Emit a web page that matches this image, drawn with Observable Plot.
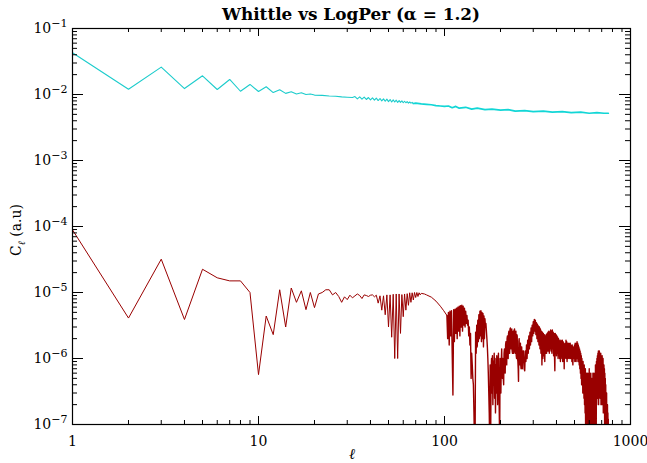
<!DOCTYPE html>
<html><head><meta charset="utf-8">
<script src="https://cdn.jsdelivr.net/npm/d3@7"></script>
<script src="https://cdn.jsdelivr.net/npm/@observablehq/plot@0.6"></script>
<style>
body{margin:0;background:#fff;}
#chart{width:647px;height:463px;}
</style></head><body><div id="chart"></div>
<script>
const titleText = "Whittle vs LogPer (\u03b1 = 1.2)";
const xTicks = [1, 10, 100, 1000];
const xTickLabels = ["1", "10", "100", "1000"];
const yTicks = [1e-7, 1e-6, 1e-5, 1e-4, 1e-3, 1e-2, 1e-1];
const yTickBase = "10";
const yTickExponents = ["\u22127", "\u22126", "\u22125", "\u22124", "\u22123", "\u22122", "\u22121"];

// Whittle estimate (cyan): [ell, C_ell]
const cyanPoints = [
[1,0.043],[2,0.012],[3,0.026],[4,0.0123],[5,0.0192],[6,0.0119],[7,0.0169],[8,0.0112],[9,0.0142],[10,0.0111],
[11,0.0131],[12,0.0107],[13,0.0118],[14,0.0104],[15,0.0110],[16,0.0102],[17,0.0106],[18,0.0100],[19,0.0102],[20,0.0098],
[22,0.0097],[24,0.0095],[26,0.0094],[28,0.0092],[30,0.0091],[32,0.0090],[33,0.0093],[34,0.0086],[35,0.0092],[36,0.0085],
[37,0.0091],[38,0.0084],[39,0.0090],[40,0.0083],[41,0.0089],[42,0.0082],[43,0.0088],[44,0.0081],[45,0.0087],[46,0.0080],
[47,0.0086],[48,0.0079],[49,0.0085],[50,0.0078],[51,0.0084],[52,0.0077],[53,0.0083],[54,0.0077],[55,0.0082],[56,0.0076],
[57,0.0081],[58,0.0076],[59,0.0080],[60,0.0075],[61,0.0079],[62,0.0075],[63,0.0078],[64,0.0074],[65,0.0077],[66,0.0074],
[67,0.0076],[68,0.0073],[70,0.0074],[75,0.0072],[80,0.0071],[85,0.0070],[90,0.0068],[95,0.0067],[100,0.0066],
[105,0.0067],[110,0.0063],[115,0.0066],[120,0.0062],[130,0.0064],[140,0.0060],[150,0.0062],[165,0.0059],[180,0.0060],
[200,0.0058],[220,0.0059],[240,0.0056],[270,0.0057],[300,0.0055],[340,0.0056],[380,0.0054],[430,0.0055],[480,0.0053],
[540,0.0054],[600,0.0052],[660,0.0053],[720,0.0052],[760,0.0052]
];

// LogPer estimate (dark red): [ell, C_ell]
const redPoints = [
[1,8.9e-5],[2,4.1e-6],[3,3.2e-5],[4,3.9e-6],[5,2.25e-5],[6,1.67e-5],[7,1.5e-5],[8,1.5e-5],[9,1.0e-5],[10,5.7e-7],
[11,4.4e-6],[12,2.3e-6],[13,1.1e-5],[14,3.0e-6],[15,1.17e-5],[16,7.1e-6],[17,1.06e-5],[18,5.5e-6],[19,1.0e-5],[20,5.9e-6],
[21,9.5e-6],[22,1.0e-5],[23,1.1e-5],[24,1.1e-5],[25,9.2e-6],[26,1.0e-5],[27,8.7e-6],[28,7.1e-6],[29,8.6e-6],[30,7.8e-6],
[31,9.1e-6],[32,8.3e-6],[33,8.9e-6],[34,9.5e-6],[35,9.0e-6],[36,8.1e-6],[37,9.2e-6],[38,9.0e-6],[39,8.7e-6],[40,9.1e-6],
[41,9.2e-6],[42,8.6e-6],[43,9.1e-6],[44,6.9e-6],[45,8.9e-6],[46,5.4e-6],[47,8.9e-6],[48,4.6e-6],[49,9.2e-6],[50,3.0e-6],
[51,9.2e-6],[52,2.1e-6],[53,9.4e-6],[54,1.0e-6],[55,9.5e-6],[56,1.0e-6],[57,9.5e-6],[58,2.4e-6],[59,9.3e-6],[60,4.3e-6],
[61,9.5e-6],[62,5.4e-6],[63,9.6e-6],[64,6.4e-6],[65,9.9e-6],[66,7.1e-6],[67,9.9e-6],[68,7.7e-6],[69,1.0e-5],[70,8.4e-6],
[71,1.0e-5],[72,8.7e-6],[73,9.9e-6],[74,9.2e-6],[75,9.7e-6],[78,9.5e-6],[80,9.2e-6],[85,8.5e-6],[90,7.4e-6],[95,6.2e-6],
[99,5.3e-6],[103,4.5e-6],[104,2.0e-6],[105,5.0e-6],[106,1.6e-6],[107,5.2e-6],[108,2.2e-6],[109,5.3e-6],[110,1.2e-6],
[111,2.8e-7],[112,5.5e-6],[113,1.8e-6],[114,5.6e-6],[115,2.4e-6],[116,5.8e-6],[117,2.0e-6],[118,6.0e-6],[119,2.6e-6],
[120,6.2e-6],[121,2.2e-6],[122,6.3e-6],[123,3.0e-6],[124,6.4e-6],[125,2.6e-6],[126,6.2e-6],[127,3.2e-6],[128,5.8e-6],
[129,3.0e-6],[130,5.2e-6],[131,3.4e-6],[132,4.5e-6],[133,3.2e-6],[134,3.8e-6],[135,2.2e-6],[136,3.0e-6],[137,1.6e-6],
[138,2.4e-6],[139,5e-7],[140,1.2e-6],[141,8e-7],[142,5e-7],[143,4e-7],[144,1.5e-7],[145,5e-8],[146,5e-8],[147,2.5e-6],
[148,1.2e-6],[149,3.2e-6],[150,1.5e-6],[151,3.8e-6],[152,1.8e-6],[153,4.6e-6],[154,2.0e-6],[155,5.2e-6],[156,2.2e-6],
[157,5.3e-6],[158,1.8e-6],[159,5.0e-6],[160,2.0e-6],[161,4.8e-6],[162,1.5e-6],[163,4.4e-6],[164,2.0e-6],[165,4.0e-6],
[166,3.0e-6],[167,3.4e-6],[168,2.6e-6],[169,2.0e-6],[170,1.5e-6],[171,1.0e-6],[172,6e-7],[173,3e-7],[174,1.5e-7],
[175,5e-8],[176,8e-7],[177,5e-8],[178,6e-7],[179,1.0e-6],[180,3e-7],[181,1.1e-6],[182,2e-7],[183,9e-7],[184,4e-7],
[185,1.2e-6],[186,2.5e-7],[187,1.0e-6],[188,1.5e-7],[189,8e-7],[190,3e-7],[191,1.1e-6],[192,5e-7],[193,2e-7],[194,9e-7],
[195,1.2e-6],[196,4e-7],[197,1.5e-7],[198,5e-8],[199,1.0e-6],[200,4e-7],[201,3e-7],[202,9e-7],[203,1.4e-6],[204,6e-7],
[205,5e-7],[206,1.0e-6],[207,5e-7],[208,4e-7],[209,1.2e-6],[210,1.4e-6],[211,7e-7],[212,6e-7],[213,1.6e-6],[214,1.8e-6],
[215,9e-7],[216,8e-7],[217,2.0e-6],[218,2.2e-6],[219,1.1e-6],[220,1.0e-6],[221,2.4e-6],[222,2.6e-6],[223,1.3e-6],
[224,1.2e-6],[225,2.8e-6],[226,2.9e-6],[227,1.5e-6],[228,1.4e-6],[229,2.7e-6],[230,2.8e-6],[231,1.3e-6],[232,1.2e-6],
[233,2.5e-6],[234,2.6e-6],[235,1.2e-6],[236,1.3e-6],[237,2.7e-6],[238,2.8e-6],[239,1.4e-6],[240,1.2e-6],[241,2.5e-6],
[242,2.6e-6],[243,1.1e-6],[244,1.0e-6],[245,2.3e-6],[246,2.2e-6],[247,1.0e-6],[248,9e-7],[249,7e-7],[250,4.5e-7],
[251,1.8e-6],[252,2.0e-6],[253,9e-7],[254,8e-7],[255,1.6e-6],[256,1.7e-6],[257,8e-7],[258,7e-7],[259,1.5e-6],[260,1.5e-6],
[262,7e-7],[264,1.3e-6],[266,1.3e-6],[268,7e-7],[270,6.5e-7],[272,1.3e-6],[274,9e-7],[276,1.6e-6],[278,1.0e-6],
[280,1.9e-6],[282,1.2e-6],[284,2.2e-6],[286,1.4e-6],[288,2.5e-6],[290,1.6e-6],[292,2.9e-6],[294,1.8e-6],[296,3.2e-6],
[298,2.2e-6],[300,3.6e-6],[302,2.4e-6],[304,3.9e-6],[306,2.6e-6],[308,3.8e-6],[310,2.3e-6],[312,3.5e-6],[314,2.0e-6],
[316,3.3e-6],[318,1.8e-6],[320,3.1e-6],[322,1.6e-6],[324,3.0e-6],[326,1.4e-6],[328,2.8e-6],[330,1.2e-6],[332,2.6e-6],
[334,8e-7],[336,2.5e-6],[338,1.0e-6],[340,2.4e-6],[342,1.1e-6],[344,2.3e-6],[346,9e-7],[348,2.2e-6],[350,1.2e-6],
[352,2.3e-6],[354,1.2e-6],[356,2.4e-6],[358,1.3e-6],[360,2.5e-6],[362,1.3e-6],[364,2.6e-6],[366,1.2e-6],[368,2.5e-6],
[370,1.4e-6],[372,2.7e-6],[374,1.3e-6],[376,2.6e-6],[378,1.2e-6],[380,2.7e-6],[382,1.4e-6],[384,2.5e-6],[386,1.1e-6],
[388,2.4e-6],[390,1.2e-6],[392,6.5e-7],[394,2.4e-6],[396,1.3e-6],[398,2.3e-6],[400,1.1e-6],[402,2.2e-6],[404,1.2e-6],
[406,2.1e-6],[408,1.0e-6],[410,2.0e-6],[412,1.1e-6],[414,1.9e-6],[416,1.0e-6],[418,1.8e-6],[420,9e-7],[422,1.9e-6],
[424,1.0e-6],[426,1.8e-6],[428,1.1e-6],[430,1.9e-6],[432,9e-7],[434,1.8e-6],[436,1.0e-6],[438,1.7e-6],[440,7e-7],
[442,1.6e-6],[444,1.0e-6],[446,1.7e-6],[448,1.1e-6],[450,1.9e-6],[452,1.0e-6],[454,1.8e-6],[456,9e-7],[458,1.7e-6],
[460,1.0e-6],[462,1.6e-6],[464,1.1e-6],[466,1.7e-6],[468,1.0e-6],[470,1.6e-6],[472,1.1e-6],[474,1.7e-6],[476,1.0e-6],
[478,1.6e-6],[480,1.2e-6],[482,1.5e-6],[484,9e-7],[486,1.6e-6],[488,1.0e-6],[490,8e-7],[492,1.5e-6],[494,1.0e-6],
[496,1.5e-6],[498,1.1e-6],[500,1.6e-6],[502,9e-7],[504,1.7e-6],[506,1.0e-6],[508,1.6e-6],[510,9e-7],[512,1.7e-6],
[514,1.1e-6],[516,1.8e-6],[518,1.0e-6],[520,1.7e-6],[522,9e-7],[524,1.6e-6],[526,1.0e-6],[528,1.5e-6],[530,8e-7],
[532,1.4e-6],[534,7e-7],[536,1.3e-6],[538,6e-7],[540,1.2e-6],[542,5e-7],[544,1.1e-6],[546,4e-7],[548,1.0e-6],[550,4e-7],
[552,9e-7],[554,3e-7],[556,9e-7],[558,3e-7],[560,8e-7],[562,2.5e-7],[564,8e-7],[566,2e-7],[568,7e-7],[570,1.5e-7],
[572,7e-7],[574,5e-8],[576,6e-7],[578,5e-8],[580,6e-7],[582,5e-8],[584,5e-7],[586,5e-8],[588,6e-7],[590,1e-7],
[592,5e-7],[594,5e-8],[596,6e-7],[598,5e-8],[600,7e-7],[602,1.2e-7],[604,6e-7],[606,5e-8],[608,5e-7],[610,5e-8],
[612,6e-7],[614,5e-8],[616,4e-7],[618,5e-8],[620,5e-7],[622,5e-8],[624,4e-7],[626,5e-8],[628,6e-7],[630,5e-8],
[632,5e-7],[634,5e-8],[636,6e-7],[638,5e-8],[640,5e-7],[642,1e-7],[644,6e-7],[646,5e-8],[648,8e-7],[650,5e-8],
[652,8e-7],[654,5e-8],[656,9e-7],[658,2e-7],[660,1.0e-6],[662,3e-7],[664,1.1e-6],[666,2.5e-7],[668,1.2e-6],[670,3e-7],
[672,1.3e-6],[674,2e-7],[676,1.2e-6],[678,4e-7],[680,1.3e-6],[682,3e-7],[684,1.2e-6],[686,2.5e-7],[688,1.1e-6],
[690,3e-7],[692,1.2e-6],[694,2e-7],[696,1.1e-6],[698,3e-7],[700,1.0e-6],[702,2e-7],[704,1.1e-6],[706,2.5e-7],
[708,9e-7],[710,2e-7],[712,1.0e-6],[714,1.5e-7],[716,8e-7],[718,2e-7],[720,8e-7],[722,1.5e-7],[724,7e-7],[726,1e-7],
[728,6e-7],[730,5e-8],[732,5e-7],[734,5e-8],[736,4e-7],[738,5e-8],[740,3e-7],[742,5e-8],[744,3e-7],[746,5e-8],
[748,2e-7],[750,5e-8],[752,2e-7],[754,5e-8],[756,1.5e-7],[758,5e-8],[760,1.2e-7]
];

const W = 647, H = 463, mL = 72, mR = 17, mT = 28, mB = 39;
const fh = H - mT - mB, fw = W - mL - mR;
const cyanData = cyanPoints.map(([l, c]) => ({l, c}));
const redData = redPoints.map(([l, c]) => ({l, c}));
const minorTicks = (lo, hi) => { const out = []; for (let e = lo; e < hi; e++) for (let k = 2; k <= 9; k++) out.push(k * Math.pow(10, e)); return out; };
const xMinor = minorTicks(0, 3);
const yMinor = minorTicks(-7, -1);
const font = "DejaVu Serif";
const cyan = "#1ccccc", red = "#990000";

const svg = Plot.plot({
  width: W, height: H,
  marginLeft: mL, marginRight: mR, marginTop: mT, marginBottom: mB,
  x: {type: "log", domain: [1, 1000], axis: null},
  y: {type: "log", domain: [1e-7, 1e-1], axis: null},
  style: {background: "white", fontFamily: font, color: "black"},
  marks: [
    Plot.line(cyanData, {filter: d => d.l <= 68, x: "l", y: "c", stroke: cyan, strokeWidth: 1.1, clip: true}),
    Plot.line(cyanData, {filter: d => d.l >= 68, x: "l", y: "c", stroke: "#12d6d6", strokeWidth: 1.7, clip: true}),
    Plot.line(redData, {filter: d => d.l <= 103, x: "l", y: "c", stroke: red, strokeWidth: 1, clip: true}),
    Plot.line(redData, {filter: d => d.l >= 103, x: "l", y: "c", stroke: red, strokeWidth: 1.4, clip: true}),
    Plot.tickX(xTicks, {x: d => d, insetTop: fh - 8, stroke: "black"}),
    Plot.tickX(xTicks, {x: d => d, insetBottom: fh - 8, stroke: "black"}),
    Plot.tickX(xMinor, {x: d => d, insetTop: fh - 4, stroke: "black"}),
    Plot.tickX(xMinor, {x: d => d, insetBottom: fh - 4, stroke: "black"}),
    Plot.tickY(yTicks, {y: d => d, insetRight: fw - 11, stroke: "black"}),
    Plot.tickY(yTicks, {y: d => d, insetLeft: fw - 11, stroke: "black"}),
    Plot.tickY(yMinor, {y: d => d, insetRight: fw - 5, stroke: "black"}),
    Plot.tickY(yMinor, {y: d => d, insetLeft: fw - 5, stroke: "black"}),
    Plot.frame({stroke: "black", strokeWidth: 1.2}),
    Plot.axisX(xTicks, {tickSize: 0, tickPadding: 12, fontSize: 14, label: null,
      tickFormat: d => xTickLabels[xTicks.indexOf(d)]}),
    Plot.axisY(yTicks, {tickSize: 0, tickPadding: 5, fontSize: 14, label: null,
      tickFormat: d => yTickBase + "|" + yTickExponents[yTicks.indexOf(d)]})
  ]
});
document.getElementById("chart").appendChild(svg);

const s = d3.select(svg);
// render y tick labels as base with raised exponent
s.selectAll("text").each(function () {
  const t = this.textContent;
  if (t.indexOf("|") < 0) return;
  const [b, e] = t.split("|");
  const el = d3.select(this);
  el.text(null);
  el.append("tspan").text(b);
  el.append("tspan").attr("font-size", 11).attr("dy", "-0.5em").text(e);
});
s.append("text").attr("x", 351).attr("y", 20).attr("text-anchor", "middle")
  .attr("font-family", font).attr("font-size", 16).attr("font-weight", "bold")
  .attr("textLength", 258).attr("lengthAdjust", "spacingAndGlyphs").text(titleText);
s.append("text").attr("x", 352).attr("y", 459).attr("text-anchor", "middle")
  .attr("font-family", font).attr("font-size", 15).attr("font-style", "italic").text("\u2113");
const yl = s.append("text").attr("transform", "translate(21,230) rotate(-90)").attr("text-anchor", "middle")
  .attr("font-family", font).attr("font-size", 14);
yl.append("tspan").text("C");
yl.append("tspan").attr("font-size", 10).attr("font-style", "italic").attr("dy", 4).text("\u2113");
yl.append("tspan").attr("dy", -4).text(" (a.u)");
</script></body></html>
